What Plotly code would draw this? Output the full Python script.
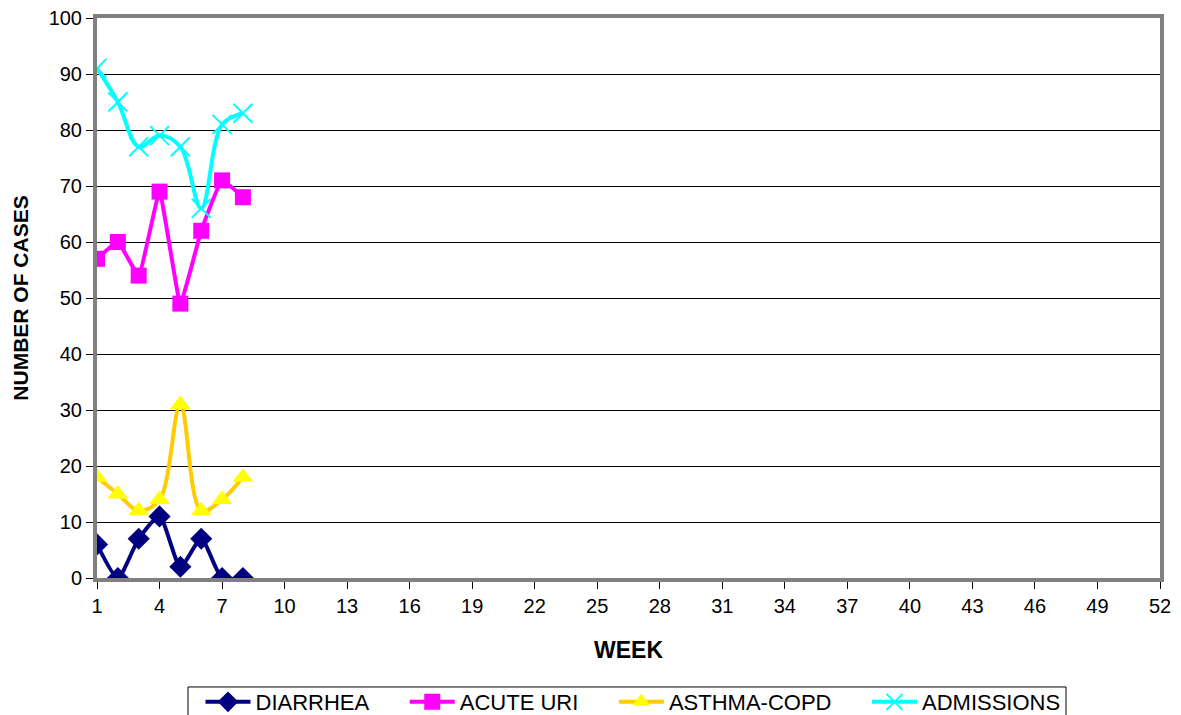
import plotly.graph_objects as go

weeks = [1, 2, 3, 4, 5, 6, 7, 8]
diarrhea = [6, 0, 7, 11, 2, 7, 0, 0]
acute_uri = [57, 60, 54, 69, 49, 62, 71, 68]
asthma_copd = [18, 15, 12, 14, 31, 12, 14, 18]
admissions = [91, 85, 77, 79, 77, 66, 81, 83]
x_ticks = list(range(1, 53, 3))
y_ticks = list(range(0, 101, 10))

PAD = "\u00a0" * 5

fig = go.Figure()
fig.add_trace(go.Scatter(x=weeks, y=diarrhea, name="DIARRHEA" + PAD, mode="lines+markers",
                         line=dict(color="#000080", width=4, shape="spline", smoothing=0.6),
                         marker=dict(symbol="diamond", size=17, color="#000080")))
fig.add_trace(go.Scatter(x=weeks, y=acute_uri, name="ACUTE URI" + PAD, mode="lines+markers",
                         line=dict(color="#FF00FF", width=4, shape="spline", smoothing=0.3),
                         marker=dict(symbol="square", size=16, color="#FF00FF")))
fig.add_trace(go.Scatter(x=weeks, y=asthma_copd, name="ASTHMA-COPD" + PAD, mode="lines+markers",
                         line=dict(color="#FFCC00", width=4, shape="spline", smoothing=1.0),
                         marker=dict(symbol="triangle-up", size=18, color="#FFFF00")))
fig.add_trace(go.Scatter(x=weeks, y=admissions, name="ADMISSIONS", mode="lines+markers",
                         line=dict(color="#00FFFF", width=4, shape="spline", smoothing=1.0),
                         marker=dict(symbol="x-thin", size=19, color="#00FFFF",
                                     line=dict(color="#00FFFF", width=2))))

# legend frame (box), partly cut by the bottom edge as in the reference
fig.add_shape(type="rect", xref="paper", yref="paper",
              x0=(188 - 97) / 1063, x1=(1066 - 97) / 1063,
              y0=-0.32, y1=-0.1946, line=dict(color="black", width=1),
              fillcolor="rgba(0,0,0,0)", layer="above")

fig.update_layout(
    width=1173, height=707,
    margin=dict(l=89, r=21, t=10, b=137, autoexpand=False),
    paper_bgcolor="white", plot_bgcolor="white",
    font=dict(family="Liberation Sans, Arial, sans-serif", color="black", size=20),
    showlegend=True,
    legend=dict(orientation="h", x=(633 - 97) / 1063, xanchor="center", y=-0.184, yanchor="top",
                borderwidth=0, bgcolor="rgba(0,0,0,0)", font=dict(size=22),
                itemwidth=45, tracegroupgap=0),
    xaxis=dict(range=[1, 52], tickvals=x_ticks, showgrid=False, zeroline=False,
               automargin=False, ticklabeloverflow="allow",
               showline=True, linecolor="#808080", linewidth=4, mirror=True,
               ticks="outside", ticklen=7, tickcolor="black",
               title=dict(text="<b>WEEK</b>", font=dict(size=23), standoff=27)),
    yaxis=dict(range=[0, 100], tickvals=y_ticks, showgrid=True, gridcolor="black",
               gridwidth=1, zeroline=False, automargin=False, ticklabeloverflow="allow",
               showline=True, linecolor="#808080", linewidth=4, mirror=True,
               ticks="outside", ticklen=7, tickcolor="black",
               title=dict(text="<b>NUMBER OF CASES</b>", font=dict(size=21), standoff=15)),
)

fig.write_html("out.html")
